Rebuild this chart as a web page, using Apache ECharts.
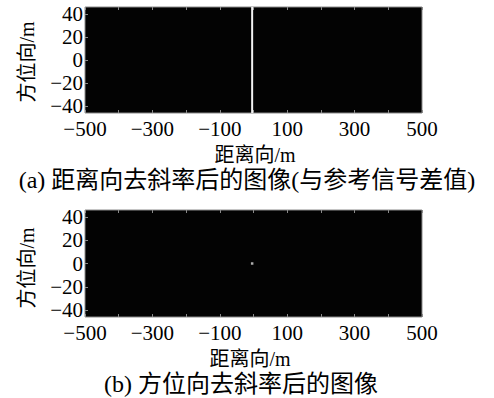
<!DOCTYPE html>
<html>
<head>
<meta charset="utf-8">
<script src="https://cdn.jsdelivr.net/npm/echarts@6/dist/echarts.min.js"></script>
<style>
  html, body { margin: 0; padding: 0; background: #fff; }
  #chart { width: 494px; height: 398px; }
</style>
</head>
<body>
<div id="chart"></div>
<script>
// axis ranges and tick labels
const rangeExtent = [-500, 500];
const azimuthExtent = [-46, 46];
const rangeLabels = [-500, -300, -100, 100, 300, 500];
const azimuthLabels = [-40, -20, 0, 20, 40];

// (a) residual after range deramp: a bright stripe along azimuth at one range cell
const stripeRange = [-4, -4];
const stripeAzimuth = [-46, 46];

// (b) after azimuth deramp: a single focused point
const pointRange = [-4];
const pointAzimuth = [0];

const SERIF = '"Liberation Serif", "Times New Roman", "Noto Sans CJK SC", serif';
const fmt = v => (v < 0 ? '\u2212' + Math.abs(v) : String(v));

function xAxisFor(gridIndex, top) {
  return {
    gridIndex,
    type: 'value',
    position: top ? 'top' : 'bottom',
    min: rangeExtent[0],
    max: rangeExtent[1],
    interval: 100,
    axisLine: { show: false, onZero: false },
    axisTick: { show: true, inside: true, length: 3, lineStyle: { color: '#8a8a8a' } },
    axisLabel: top ? { show: false } : {
      margin: 5,
      fontFamily: SERIF,
      fontSize: 21,
      color: '#000',
      formatter: v => (rangeLabels.includes(v) ? fmt(v) : '')
    },
    splitLine: { show: false }
  };
}

function yAxisFor(gridIndex) {
  return {
    gridIndex,
    type: 'value',
    min: azimuthExtent[0],
    max: azimuthExtent[1],
    axisLine: { show: false, onZero: false },
    axisTick: { show: true, inside: true, length: 3, customValues: azimuthLabels, lineStyle: { color: '#8a8a8a' } },
    axisLabel: {
      margin: 2,
      fontFamily: SERIF,
      fontSize: 21,
      color: '#000',
      customValues: azimuthLabels,
      formatter: fmt
    },
    splitLine: { show: false }
  };
}

const gridStyle = { show: true, backgroundColor: '#030303', borderColor: '#8a8a8a', borderWidth: 1 };

function label(text, x, y, size, rot) {
  return {
    type: 'text', x, y, rotation: rot || 0,
    style: { text, fontFamily: SERIF, fontSize: size, fill: '#000', align: 'center', verticalAlign: 'middle' }
  };
}

const chart = echarts.init(document.getElementById('chart'), null, { renderer: 'svg' });
chart.setOption({
  backgroundColor: '#fff',
  animation: false,
  grid: [
    Object.assign({ left: 85, top: 7, width: 337, height: 106 }, gridStyle),
    Object.assign({ left: 85, top: 210, width: 337, height: 107 }, gridStyle)
  ],
  xAxis: [xAxisFor(0, false), xAxisFor(0, true), xAxisFor(1, false), xAxisFor(1, true)],
  yAxis: [yAxisFor(0), yAxisFor(1)],
  series: [
    {
      name: '(a)',
      type: 'line',
      xAxisIndex: 0,
      yAxisIndex: 0,
      data: stripeRange.map((r, i) => [r, stripeAzimuth[i]]),
      showSymbol: false,
      lineStyle: { color: '#f2f2f2', width: 2 }
    },
    {
      name: '(b)',
      type: 'scatter',
      xAxisIndex: 2,
      yAxisIndex: 1,
      data: pointRange.map((r, i) => [r, pointAzimuth[i]]),
      symbol: 'rect',
      symbolSize: 2.5,
      itemStyle: { color: '#d8d8d8' }
    }
  ],
  graphic: [
    label('方位向/m', 27, 62, 20, Math.PI / 2),
    label('距离向/m', 255, 155, 20),
    label('(a) 距离向去斜率后的图像(与参考信号差值)', 247, 180, 24),
    label('方位向/m', 27, 268, 20, Math.PI / 2),
    label('距离向/m', 250, 359, 20),
    label('(b) 方位向去斜率后的图像', 241, 384, 24)
  ]
});
</script>
</body>
</html>
